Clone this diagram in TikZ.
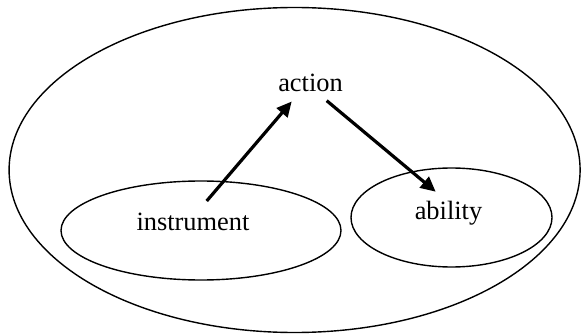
\documentclass[tikz,border=0pt]{standalone}
\usepackage{fontspec}
\setmainfont{Liberation Serif}
\usetikzlibrary{arrows.meta}
\begin{document}
\begin{tikzpicture}[x=1pt,y=-1pt,
  ring/.style={draw=black,line width=1.4pt},
  label/.style={font=\fontsize{26.4}{30}\selectfont,inner sep=0pt,anchor=base},
  arr/.style={line width=3.2pt,-{Triangle[length=15pt,width=14pt]}}]
  \useasboundingbox (0,0) rectangle (581,334);
  % enclosing set and the two sub-sets
  \draw[ring] (294.6,170) ellipse [x radius=285.5,y radius=162.5];
  \draw[ring] (201,230.5) ellipse [x radius=140,y radius=49.5];
  \draw[ring] (451.5,217.5) ellipse [x radius=100.5,y radius=49.5];
  % labels
  \node[label] (action) at (310.5,92) {action};
  \node[label] (instr) at (193,230.7) {instrument};
  \node[label] (ability) at (448.5,219.3) {ability};
  % arrow end points
  \coordinate (instrOut) at (206.7,201);
  \coordinate (actionIn) at (291.7,101.5);
  \coordinate (actionOut) at (326.7,100.7);
  \coordinate (abilityIn) at (435.7,191.7);
  \draw[arr] (instrOut) -- (actionIn);
  \draw[arr] (actionOut) -- (abilityIn);
\end{tikzpicture}
\end{document}
